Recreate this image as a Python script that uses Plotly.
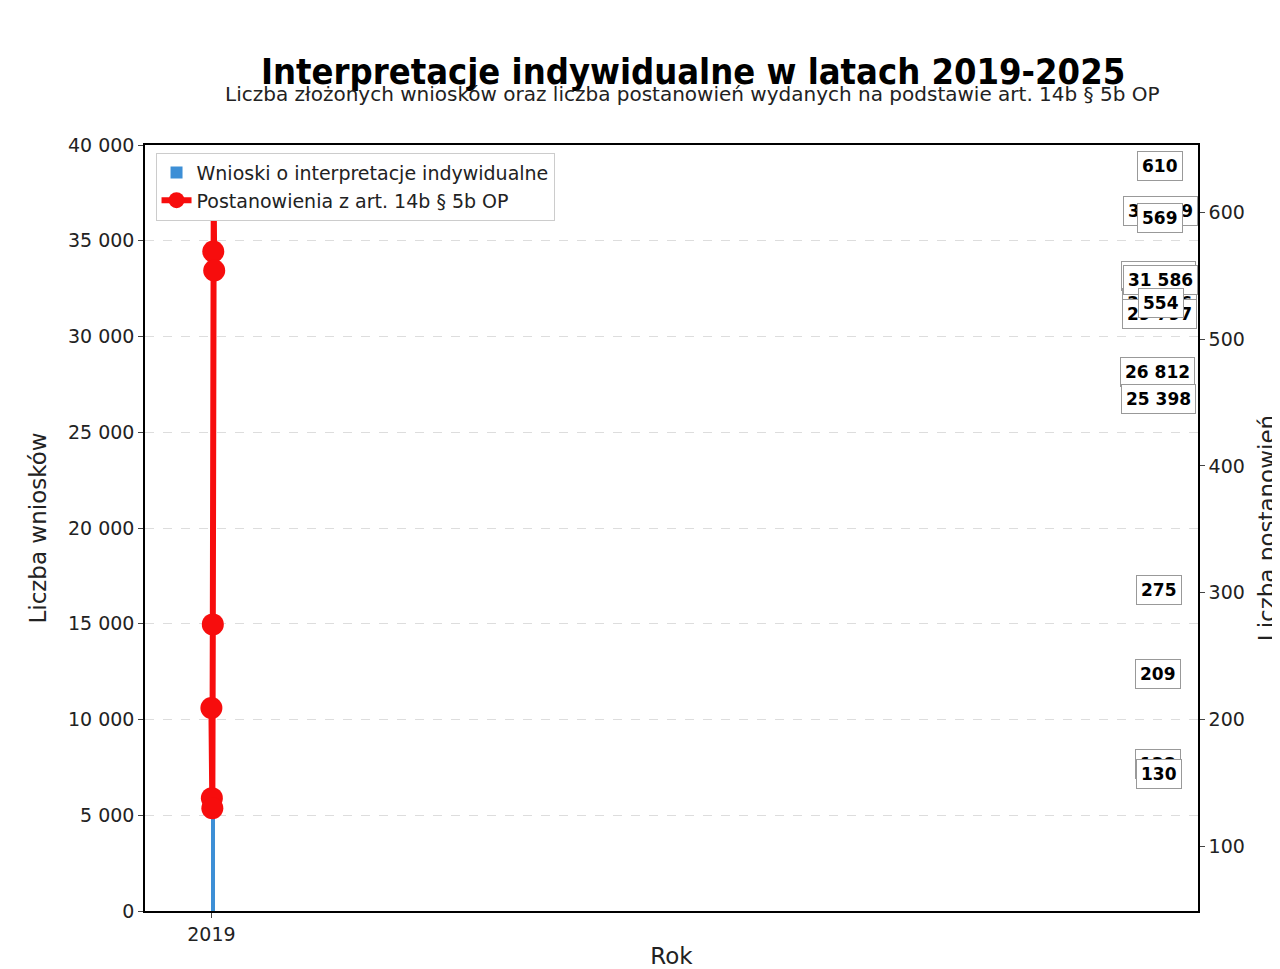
import plotly.graph_objects as go

years = ["2019", "2020", "2021", "2022", "2023", "2024", "2025"]
wnioski = [26812, 25398, 31826, 30376, 29797, 31586, 35189]
postanowienia = [209, 138, 130, 275, 569, 610, 554]

fig = go.Figure()
fig.add_trace(go.Bar(x=years, y=wnioski, name="Wnioski o interpretacje indywidualne",
                     marker=dict(color="#3d8fd6", line=dict(width=0)), width=0.55))
fig.add_trace(go.Scatter(x=years, y=postanowienia, name="Postanowienia z art. 14b § 5b OP",
                         yaxis="y2", mode="lines+markers",
                         line=dict(color="#f70d0d", width=6),
                         marker=dict(color="#f70d0d", size=22)))

ann = []
for x, v in zip(years, wnioski):
    ann.append(dict(x=x, y=v, xref="x", yref="y", text=f"<b>{v:,}</b>".replace(",", " "),
                    showarrow=False, yshift=26, bgcolor="white", bordercolor="#999",
                    borderwidth=1, borderpad=4, font=dict(size=17, color="black")))
for i, (x, v) in enumerate(zip(years, postanowienia)):
    ann.append(dict(x=x, y=v, xref="x", yref="y2", text=f"<b>{v}</b>", showarrow=False,
                    yshift=-32 if i == 6 else 34, bgcolor="white", bordercolor="#999",
                    borderwidth=1, borderpad=4, font=dict(size=17, color="black")))
ann.append(dict(x=0.52, y=1.125, xref="paper", yref="paper", showarrow=False,
                text="<b>Interpretacje indywidualne w latach 2019-2025</b>",
                font=dict(family="DejaVu Sans Condensed", size=36, color="black")))
ann.append(dict(x=0.52, y=1.085, xref="paper", yref="paper", showarrow=False,
                text="Liczba złożonych wniosków oraz liczba postanowień wydanych na podstawie art. 14b § 5b OP",
                font=dict(size=20, color="#222")))

fig.update_layout(
    width=1280, height=969, paper_bgcolor="white", plot_bgcolor="white",
    separators=", ",
    font=dict(family="DejaVu Sans", size=19, color="#222"),
    margin=dict(l=137, r=88, t=137, b=58),
    xaxis=dict(type="category", title=dict(text="Rok", standoff=4), showline=True,
               linecolor="black", linewidth=1.5, ticks="outside", mirror=True, tickfont=dict(size=19)),
    yaxis=dict(title=dict(text="Liczba wniosków"), range=[0, 40000], dtick=5000,
               tickformat=",d", showline=True, linecolor="black", linewidth=1.5,
               ticks="outside", gridcolor="#dddddd", griddash="dash", zeroline=False),
    yaxis2=dict(title=dict(text="Liczba postanowień"), overlaying="y", side="right",
                range=[49, 653], tickvals=[100, 200, 300, 400, 500, 600], showgrid=False,
                showline=True, linecolor="black", linewidth=1.5, ticks="outside", zeroline=False),
    legend=dict(x=0.01, y=0.99, xanchor="left", yanchor="top", bgcolor="white",
                bordercolor="#cccccc", borderwidth=1, font=dict(size=19)),
    annotations=ann, bargap=0.45,
)
fig.write_html("out.html")
